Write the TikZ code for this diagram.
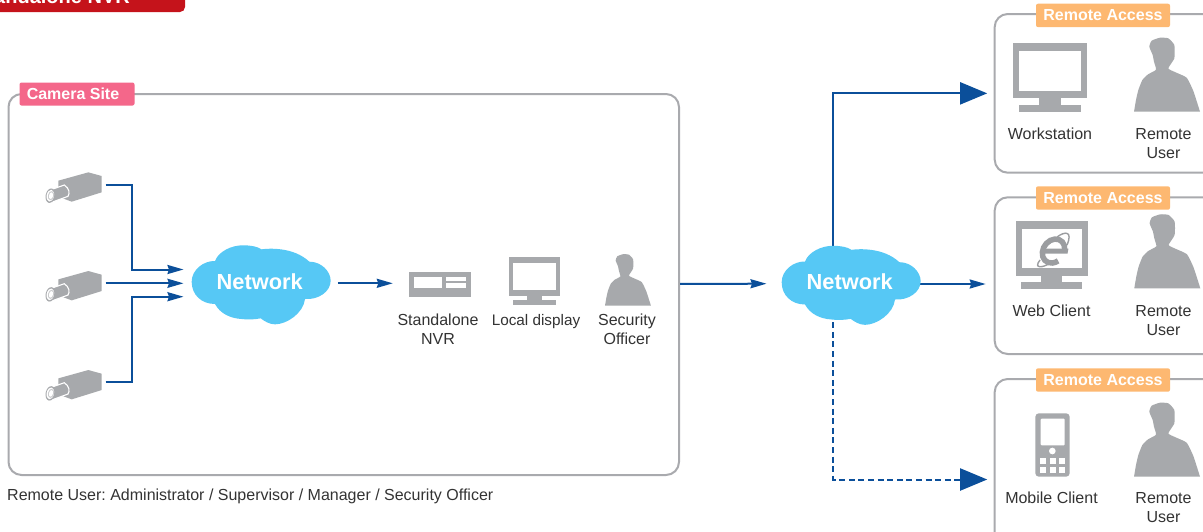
\documentclass[tikz,border=0pt]{standalone}
\usepackage{fontspec}
\setmainfont{Liberation Sans}
\frenchspacing
\usetikzlibrary{arrows.meta,calc}
\definecolor{icongray}{HTML}{A7A9AC}
\definecolor{boxgray}{HTML}{A9AAAE}
\definecolor{linkblue}{HTML}{0B4F9A}
\definecolor{cloudblue}{HTML}{56C8F5}
\definecolor{pinktag}{HTML}{F4678A}
\definecolor{orangetag}{HTML}{FDB871}
\definecolor{redtag}{HTML}{C5131B}
\definecolor{txt}{HTML}{333333}
\definecolor{iegray}{HTML}{9B9DA0}
\tikzset{
  lbl/.style={font=\fontsize{16}{19}\selectfont,text=txt,align=center,anchor=base,inner sep=0pt},
  sitebox/.style={draw=boxgray,line width=2pt,rounded corners=13pt,fill=white,inner sep=0pt},
  tag/.style={rounded corners=2pt,inner sep=0pt,text=white,font=\fontsize{16}{18}\bfseries\selectfont},
  netnode/.style={inner sep=0pt,minimum width=140pt,minimum height=76pt,text=white,font=\fontsize{21.8}{24}\bfseries\selectfont},
  anchorbox/.style={inner sep=0pt},
  link/.style={draw=linkblue,line width=2pt},
  smalltip/.style={-{Stealth[length=16pt,width=9pt,inset=1.5pt]}},
  bigtip/.style={-{Triangle[length=27pt,width=22pt]}},
  pics/monitor/.style={code={
    \fill[icongray] (0,0) rectangle (220,167);
    \fill[white] (18,24) rectangle (202,144);
    \fill[icongray] (78,167) rectangle (142,187);
    \fill[icongray] (17,187) rectangle (203,208);
  }},
  pics/person/.style={code={
    \fill[icongray] plot[smooth,tension=.3] coordinates {(0,0) (6,-35) (13,-65) (25,-95) (42,-112) (66,-126) (60,-150) (56,-170) (46,-195) (53,-213) (78,-222) (103,-220) (121,-200) (121,-160) (103,-130) (125,-118) (158,-102) (178,-62) (198,0)} -- cycle;
  }},
  pics/camera/.style={code={
    \fill[icongray] (85,62) -- (175,37) -- (215,48) -- (215,97) -- (125,125) -- (85,110) -- cycle;
    \fill[icongray,draw=white,line width=1.1pt] (52,93) -- (103,75) .. controls (118,85) and (120,100) .. (114,109) -- (62,128) -- cycle;
    \fill[icongray,rotate around={-12:(61,107)}] (61,107) ellipse [x radius=14,y radius=22];
    \fill[white,rotate around={-12:(61,107)}] (61,107) ellipse [x radius=11,y radius=18];
    \fill[icongray!60,rotate around={-12:(63,107)}] (63,107) ellipse [x radius=9,y radius=14];
    \fill[white,rotate around={-12:(63,107)}] (63,107) ellipse [x radius=6,y radius=10];
  }},
  pics/cloud/.style={code={
    \fill[cloudblue] (135,93) .. controls (145,65) and (185,45) .. (220,46)
      .. controls (245,46) and (262,50) .. (275,58)
      .. controls (295,55) and (370,50) .. (418,95)
      .. controls (455,95) and (482,125) .. (482,152)
      .. controls (482,185) and (445,210) .. (405,207)
      .. controls (400,250) and (350,283) .. (315,283)
      .. controls (300,283) and (285,275) .. (272,265)
      .. controls (255,268) and (235,270) .. (215,267)
      .. controls (180,265) and (150,250) .. (135,222)
      .. controls (95,222) and (65,195) .. (65,155)
      .. controls (65,120) and (100,92) .. (135,93) -- cycle;
  }},
  pics/nvrbox/.style={code={
    \fill[icongray] (0,0) rectangle (186,75);
    \fill[white] (16,13) rectangle (100,46);
    \fill[white] (110,13) rectangle (171,26);
    \fill[white] (110,33) rectangle (171,46);
  }},
  pics/phone/.style={code={
    \fill[icongray,rounded corners=3.5pt] (136,130) rectangle (239,320);
    \fill[white,rounded corners=1pt] (152,146) rectangle (224,226);
    \fill[white] (187,243) circle (10);
    \foreach \kx in {150,180,208}{\foreach \ky in {264,290}{
      \fill[white] (\kx,\ky) rectangle ++(18,18);}}
  }},
  pics/ielogo/.style={code={
    \begin{scope}[xslant=.18]
    \draw[iegray,line width=5.5pt] (11.5,-1) arc[start angle=-5,end angle=-305,x radius=11,y radius=12];
    \fill[iegray] (-10,-2.5) rectangle (15,2.5);
    \end{scope}
    \draw[iegray,line width=1.4pt] (-13,9) .. controls (-20,18) and (-10,17) .. (-3,12);
    \draw[iegray,line width=1.4pt] (4,-14) .. controls (12,-20) and (20,-20) .. (14,-6);
  }}
}
\begin{document}
\begin{tikzpicture}[x=1pt,y=-1pt]
\useasboundingbox (0,0) rectangle (1203,531);
% title tag
\fill[redtag,rounded corners=5pt] (-12,-30) rectangle (185,12);
\node[anchor=base east,inner sep=0pt,text=white,font=\fontsize{20}{22}\bfseries\selectfont] (title) at (130,3.5) {Standalone NVR};
% site boxes
\node[sitebox,minimum width=670.5pt,minimum height=381pt] (site) at (343.75,284.5) {};
\node[sitebox,minimum width=230pt,minimum height=158.7pt] (rem1) at (1109.7,93.35) {};
\node[sitebox,minimum width=230pt,minimum height=156.7pt] (rem2) at (1109.7,275.65) {};
\node[sitebox,minimum width=230pt,minimum height=201pt] (rem3) at (1109.7,479.5) {};
% tags
\node[tag,fill=pinktag,minimum width=115pt,minimum height=23pt] (tagsite) at (77,94) {Camera Site\rule{8pt}{0pt}};
\node[tag,fill=orangetag,minimum width=134pt,minimum height=23.4pt] (tag1) at (1103,15.4) {Remote Access};
\node[tag,fill=orangetag,minimum width=134pt,minimum height=23.4pt] (tag2) at (1103,198) {Remote Access};
\node[tag,fill=orangetag,minimum width=134pt,minimum height=23.4pt] (tag3) at (1103,380) {Remote Access};
% camera anchors
\node[anchorbox,minimum width=60pt,minimum height=8pt] (cam1) at (75.5,185) {};
\node[anchorbox,minimum width=60pt,minimum height=8pt] (cam2) at (75.5,283.3) {};
\node[anchorbox,minimum width=60pt,minimum height=8pt] (cam3) at (75.5,381.7) {};
\node[anchorbox,minimum width=90pt,minimum height=26pt] (nvr) at (438,283.3) {};
% network anchors (text comes last)
\coordinate (net1c) at (259.7,283.3);
\coordinate (net2c) at (849.7,284);
\node[netnode] (net1) at (net1c) {};
\node[netnode] (net2) at (net2c) {};
% connectors
\draw[link,smalltip] (cam1.east) -| (131.7,269.5) -- ([xshift=-6,yshift=13.8]net1.west);
\draw[link,smalltip] (cam2.east) -- ([xshift=-6,yshift=0]net1.west);
\draw[link,smalltip] (cam3.east) -| (131.7,296.7) -- ([xshift=-6,yshift=-13.4]net1.west);
\draw[link,smalltip] ([xshift=8]net1.east) -- (nvr.west);
\draw[link,smalltip] ([yshift=.6]site.east) -- ([xshift=-13,yshift=.3]net2.west);
\draw[link,smalltip] (net2.east) -- ([xshift=-8]rem2.west |- net2.east);
\draw[link,bigtip] ([xshift=-16.4]net2.north) |- ([xshift=-6.5]rem1.west);
\draw[link,bigtip,dash pattern=on 6pt off 3.6pt] ([xshift=-16.4]net2.south) |- ([xshift=-6.5]rem3.west);
% clouds
\pic[scale=1/3] at (170,230) {cloud};
\pic[scale=1/3] at (760,230.5) {cloud};
\node[netnode] (net1t) at (259.7,282) {Network};
\node[netnode] (net2t) at (849.7,282) {Network};
% cameras
\pic[scale=1/3] at (30,160) {camera};
\pic[scale=1/3] at (30,258.7) {camera};
\pic[scale=1/3] at (30,357.7) {camera};
% site icons
\pic[scale=1/3] at (409,272.3) {nvrbox};
\pic[scale=.23] at (509.3,257.3) {monitor};
\pic[scale=.232] at (605,305.7) {person};
% remote icons
\pic[scale=1/3] at (1013.3,42.7) {monitor};
\pic[scale=1/3] at (1134,111.7) {person};
\pic[scale=.328] at (1015.7,221) {monitor};
\pic at (1053,251) {ielogo};
\pic[scale=1/3] at (1134.3,288.3) {person};
\pic[scale=1/3] at (990,370) {phone};
\pic[scale=1/3] at (1134,476.7) {person};
% labels
\node[lbl] (lnvr) at (438,344.5) {Standalone\\NVR};
\node[lbl,font=\fontsize{15.3}{19}\selectfont] (ldisp) at (536,325.5) {Local display};
\node[lbl] (lsec) at (627,344.5) {Security\\Officer};
\node[lbl] (lws) at (1050,139) {Workstation};
\node[lbl] (lru1) at (1163.5,158) {Remote\\User};
\node[lbl] (lweb) at (1051.5,316) {Web Client};
\node[lbl] (lru2) at (1163.5,335) {Remote\\User};
\node[lbl] (lmob) at (1051.5,503) {Mobile Client};
\node[lbl] (lru3) at (1163.5,522) {Remote\\User};
\node[lbl,anchor=base west] (note) at (7,500) {Remote User: Administrator / Supervisor / Manager / Security Officer};
\end{tikzpicture}
\end{document}
